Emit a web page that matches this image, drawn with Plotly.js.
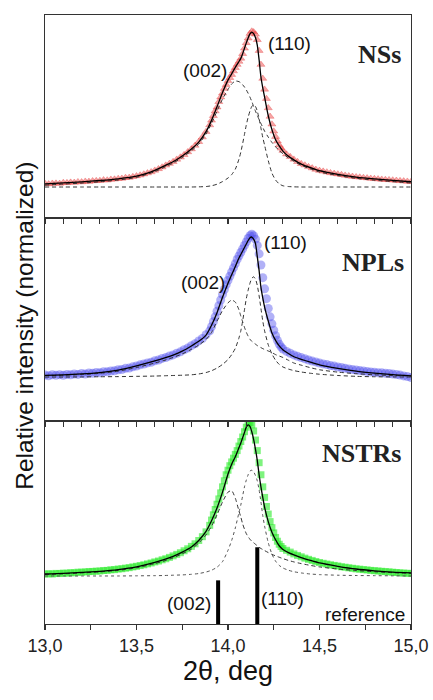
<!DOCTYPE html>
<html>
<head>
<meta charset="utf-8">
<script src="https://cdn.plot.ly/plotly-3.0.1.min.js"></script>
<style>html,body{margin:0;padding:0;background:#fff;}#chart{width:433px;height:700px;}</style>
</head>
<body>
<div id="chart"></div>
<script>
// ---------- measured data (2theta, deg) ----------
const dataTheta = [
 13.00,13.02,13.04,13.06,13.08,13.10,13.12,13.14,13.16,13.18,13.20,13.22,13.24,13.26,13.28,13.30,13.32,13.34,13.36,13.38,13.40,13.42,13.44,13.46,13.48,13.50,13.52,13.54,13.56,13.58,13.60,13.62,13.64,13.66,13.68,13.70,13.72,13.74,13.76,13.78,13.80,13.82,13.84,13.86,13.88,
 13.90,13.91,13.92,13.93,13.94,13.95,13.96,13.97,13.98,13.99,14.00,14.01,14.02,14.03,14.04,14.05,14.06,14.07,14.08,14.09,14.10,14.11,14.12,14.13,14.14,14.15,14.16,14.17,14.18,14.19,14.20,14.21,14.22,14.23,14.24,14.25,14.26,14.27,14.28,14.29,14.30,
 14.32,14.34,14.36,14.38,14.40,14.42,14.44,14.46,14.48,14.50,14.52,14.54,14.56,14.58,14.60,14.62,14.64,14.66,14.68,14.70,14.72,14.74,14.76,14.78,14.80,14.82,14.84,14.86,14.88,14.90,14.92,14.94,14.96,14.98,15.00];

const nssData = [
 0.022,0.019,0.023,0.024,0.022,0.028,0.027,0.030,0.029,0.033,0.032,0.036,0.035,0.039,0.040,0.041,0.045,0.044,0.049,0.050,0.054,0.055,0.060,0.061,0.066,0.071,0.076,0.083,0.090,0.097,0.107,0.117,0.128,0.140,0.151,0.163,0.178,0.192,0.208,0.226,0.245,0.268,0.292,0.322,0.357,
 0.40,0.43,0.46,0.49,0.515,0.55,0.58,0.605,0.635,0.66,0.685,0.705,0.725,0.748,0.77,0.79,0.81,0.83,0.86,0.895,0.93,0.96,0.99,1.005,1.0,0.985,0.95,0.88,0.79,0.70,0.63,0.57,0.51,0.455,0.405,0.36,0.325,0.295,0.27,0.25,0.235,
 0.212,0.195,0.178,0.163,0.150,0.141,0.130,0.122,0.113,0.106,0.101,0.096,0.091,0.087,0.083,0.079,0.075,0.071,0.068,0.065,0.063,0.060,0.058,0.055,0.053,0.051,0.049,0.047,0.046,0.044,0.042,0.040,0.038,0.036,0.034];

const nplData = [
 0.014,0.009,0.016,0.012,0.017,0.013,0.019,0.016,0.022,0.019,0.025,0.022,0.029,0.027,0.033,0.031,0.038,0.037,0.043,0.045,0.052,0.054,0.062,0.064,0.073,0.079,0.087,0.093,0.101,0.106,0.116,0.122,0.133,0.139,0.150,0.158,0.170,0.180,0.195,0.207,0.224,0.238,0.258,0.275,0.302,
 0.33,0.36,0.395,0.43,0.47,0.51,0.55,0.59,0.625,0.66,0.69,0.72,0.75,0.78,0.81,0.84,0.865,0.89,0.915,0.94,0.965,0.99,1.01,1.02,1.01,0.985,0.94,0.88,0.80,0.71,0.63,0.56,0.49,0.43,0.38,0.335,0.295,0.262,0.235,0.215,0.20,
 0.183,0.170,0.158,0.148,0.139,0.131,0.122,0.114,0.108,0.100,0.094,0.089,0.082,0.078,0.072,0.068,0.062,0.058,0.053,0.050,0.046,0.043,0.040,0.036,0.034,0.031,0.030,0.027,0.025,0.021,0.018,0.014,0.008,0.003,-0.004];

const nstrData = [
 0.012,0.015,0.013,0.017,0.016,0.019,0.018,0.022,0.021,0.025,0.025,0.027,0.029,0.030,0.032,0.033,0.036,0.037,0.041,0.042,0.046,0.048,0.052,0.055,0.060,0.064,0.069,0.074,0.080,0.086,0.093,0.099,0.107,0.114,0.123,0.133,0.143,0.154,0.167,0.180,0.196,0.213,0.235,0.260,0.292,
 0.335,0.37,0.405,0.44,0.475,0.51,0.55,0.59,0.63,0.67,0.70,0.73,0.755,0.78,0.805,0.83,0.86,0.89,0.92,0.955,0.985,1.01,1.015,1.0,0.96,0.90,0.83,0.75,0.67,0.59,0.52,0.46,0.41,0.36,0.32,0.285,0.255,0.23,0.21,0.195,0.182,
 0.170,0.158,0.146,0.136,0.127,0.118,0.110,0.103,0.096,0.089,0.084,0.079,0.074,0.070,0.066,0.061,0.058,0.054,0.051,0.047,0.045,0.042,0.040,0.037,0.035,0.033,0.031,0.029,0.027,0.025,0.023,0.021,0.019,0.018,0.016];

// ---------- fitted curves ----------
const fitTheta = [13.0,13.1,13.2,13.3,13.4,13.5,13.6,13.65,13.7,13.75,13.8,13.84,13.88,13.91,13.94,13.97,14.0,14.02,14.04,14.06,
 14.07,14.08,14.09,14.1,14.11,14.12,14.13,14.14,14.15,14.16,14.17,14.18,14.19,14.2,14.22,14.24,14.26,14.28,14.3,14.33,14.36,14.4,14.45,14.5,14.6,14.7,14.8,14.9,15.0];

const nssFit  = [0.020,0.027,0.033,0.042,0.053,0.070,0.108,0.135,0.163,0.200,0.245,0.290,0.357,0.430,0.518,0.610,0.690,0.730,0.772,0.810,
 0.830,0.860,0.895,0.930,0.962,0.988,1.000,0.990,0.965,0.915,0.820,0.710,0.640,0.580,0.460,0.370,0.305,0.265,0.232,0.198,0.175,0.148,0.125,0.105,0.082,0.064,0.052,0.043,0.034];
const nss002  = [0.012,0.019,0.025,0.034,0.045,0.062,0.099,0.126,0.154,0.190,0.234,0.277,0.342,0.410,0.490,0.568,0.630,0.665,0.684,0.680,
 0.672,0.660,0.645,0.627,0.605,0.580,0.552,0.520,0.490,0.462,0.435,0.410,0.385,0.360,0.322,0.288,0.260,0.235,0.215,0.188,0.166,0.140,0.117,0.097,0.074,0.056,0.044,0.035,0.026];
const nss110  = [0,0,0,0,0,0,0,0,0,0,0,0.001,0.003,0.008,0.018,0.035,0.058,0.080,0.115,0.180,
 0.225,0.280,0.340,0.400,0.450,0.490,0.520,0.530,0.520,0.490,0.440,0.380,0.320,0.270,0.170,0.090,0.045,0.020,0.008,0.003,0.001,0,0,0,0,0,0,0,0];

const nplFit  = [0.012,0.016,0.022,0.032,0.050,0.080,0.115,0.135,0.157,0.185,0.222,0.255,0.300,0.370,0.460,0.570,0.670,0.730,0.790,0.850,
 0.875,0.900,0.925,0.950,0.975,0.995,1.000,0.985,0.955,0.860,0.760,0.640,0.565,0.500,0.400,0.315,0.262,0.222,0.195,0.168,0.145,0.127,0.106,0.087,0.062,0.042,0.028,0.017,0.009];
const npl002  = [0.010,0.013,0.018,0.027,0.042,0.068,0.100,0.118,0.140,0.165,0.198,0.228,0.268,0.318,0.400,0.475,0.530,0.550,0.535,0.480,
 0.435,0.395,0.355,0.320,0.292,0.270,0.255,0.245,0.235,0.225,0.217,0.210,0.203,0.197,0.186,0.175,0.160,0.150,0.140,0.120,0.100,0.085,0.067,0.052,0.035,0.024,0.016,0.011,0.007];
const npl110  = [0,0,0.001,0.002,0.003,0.005,0.007,0.009,0.011,0.013,0.016,0.022,0.032,0.045,0.064,0.090,0.125,0.160,0.205,0.280,
 0.330,0.400,0.480,0.560,0.620,0.670,0.705,0.716,0.700,0.655,0.580,0.490,0.400,0.330,0.230,0.165,0.120,0.090,0.072,0.057,0.046,0.036,0.027,0.020,0.011,0.005,0.002,0.001,0];

const nstrFit = [0.013,0.017,0.024,0.031,0.042,0.060,0.090,0.108,0.130,0.158,0.192,0.235,0.295,0.365,0.450,0.555,0.675,0.740,0.790,0.850,
 0.880,0.915,0.950,0.985,1.000,0.990,0.955,0.905,0.840,0.765,0.670,0.590,0.520,0.455,0.360,0.290,0.240,0.200,0.175,0.155,0.140,0.122,0.103,0.086,0.064,0.046,0.034,0.025,0.020];
const nstr002 = [0.010,0.014,0.020,0.027,0.037,0.054,0.082,0.099,0.120,0.147,0.178,0.218,0.272,0.330,0.405,0.490,0.555,0.565,0.515,0.430,
 0.390,0.345,0.310,0.280,0.260,0.243,0.230,0.220,0.210,0.200,0.190,0.182,0.175,0.168,0.155,0.143,0.133,0.124,0.115,0.103,0.093,0.082,0.070,0.060,0.046,0.036,0.028,0.022,0.017];
const nstr110 = [0,0,0,0,0,0.001,0.002,0.003,0.005,0.007,0.011,0.016,0.026,0.038,0.058,0.095,0.170,0.235,0.318,0.420,
 0.470,0.530,0.590,0.635,0.670,0.695,0.700,0.690,0.665,0.630,0.570,0.490,0.400,0.330,0.220,0.145,0.098,0.070,0.053,0.038,0.028,0.020,0.013,0.009,0.005,0.003,0.002,0.001,0];

// ---------- reference pattern ----------
const refTheta  = [13.946, 14.160];
const refHeight = [0.289, 0.508];
const refLabels = ['(002)', '(110)'];

// ---------- axis ranges per panel ----------
const rangeTop = [-0.2, 1.11];
const rangeMid = [-0.314, 1.136];
const rangeBot = [-0.318, 1.026];

const fitLine  = {color:'#000', width:1.3, shape:'spline', smoothing:0.6};
const compDash = {color:'#333', width:1, dash:'4px,3px', shape:'spline', smoothing:0.6};
const compDot  = {color:'#555', width:1, dash:'dot', shape:'spline', smoothing:0.6};

const traces = [
  // NSs (top)
  {x:dataTheta, y:nssData, xaxis:'x3', yaxis:'y3', mode:'markers', type:'scatter',
   marker:{symbol:'triangle-up', size:7, color:'rgba(240,75,75,0.5)', line:{color:'rgba(225,55,55,0.55)', width:0.6}}},
  {x:fitTheta, y:nss002, xaxis:'x3', yaxis:'y3', mode:'lines', line:compDash},
  {x:fitTheta, y:nss110, xaxis:'x3', yaxis:'y3', mode:'lines', line:compDash},
  {x:fitTheta, y:nssFit, xaxis:'x3', yaxis:'y3', mode:'lines', line:fitLine},
  // NPLs (middle)
  {x:dataTheta, y:nplData, xaxis:'x2', yaxis:'y2', mode:'markers', type:'scatter',
   marker:{symbol:'circle', size:9, color:'rgba(70,70,235,0.42)', line:{width:0}}},
  {x:fitTheta, y:npl002, xaxis:'x2', yaxis:'y2', mode:'lines', line:compDash},
  {x:fitTheta, y:npl110, xaxis:'x2', yaxis:'y2', mode:'lines', line:compDash},
  {x:fitTheta, y:nplFit, xaxis:'x2', yaxis:'y2', mode:'lines', line:fitLine},
  // NSTRs (bottom)
  {x:dataTheta, y:nstrData, xaxis:'x', yaxis:'y', mode:'markers', type:'scatter',
   marker:{symbol:'square', size:7, color:'rgba(40,235,40,0.6)', line:{width:0}}},
  {x:fitTheta, y:nstr002, xaxis:'x', yaxis:'y', mode:'lines', line:compDash},
  {x:fitTheta, y:nstr110, xaxis:'x', yaxis:'y', mode:'lines', line:compDot},
  {x:fitTheta, y:nstrFit, xaxis:'x', yaxis:'y', mode:'lines', line:fitLine},
  // reference bars
  {type:'bar', x:refTheta, y:refHeight, base:rangeBot[0], width:0.022, xaxis:'x', yaxis:'y',
   marker:{color:'#000', line:{width:0}}, text:refLabels, hoverinfo:'x+text', textposition:'none'}
];

const axisLine = {showline:true, linecolor:'#333', linewidth:1.3, mirror:true, showgrid:false, zeroline:false};
const upperX = Object.assign({}, axisLine, {matches:'x', range:[13,15], tick0:13, dtick:0.1, ticks:'outside',
  ticklen:5, tickwidth:1.1, tickcolor:'#333', showticklabels:false});
const yBase = Object.assign({}, axisLine, {showticklabels:false, ticks:''});

const sans = 'Liberation Sans, Arial, sans-serif';
const serif = 'Liberation Serif, Times New Roman, serif';
const lbl = (text, xr, yr, x, y, extra) => Object.assign({text, xref:xr, yref:yr, x, y, showarrow:false,
  font:{family:sans, size:19, color:'#111'}, xanchor:'center', yanchor:'middle'}, extra || {});
const panelLbl = (text, yr, x, y) => ({text, xref:'paper', yref:yr, x, y, showarrow:false, xanchor:'right', yanchor:'middle',
  font:{family:serif, size:26, color:'#222', weight:'bold'}});

const layout = {
  width:433, height:700,
  margin:{l:45, r:22, t:15, b:76},
  paper_bgcolor:'#fff', plot_bgcolor:'#fff',
  separators:', ',
  showlegend:false,
  font:{family:sans, color:'#222'},
  xaxis: Object.assign({}, axisLine, {anchor:'y', range:[13,15], tick0:13, dtick:0.5, tickformat:'.1f',
    ticks:'outside', ticklen:5, tickwidth:1.1, tickcolor:'#333',
    minor:{dtick:0.25, tick0:13, ticks:'outside', ticklen:5, tickwidth:1.1, tickcolor:'#333', showgrid:false},
    tickfont:{family:sans, size:18, color:'#222'},
    title:{text:'2θ, deg', font:{family:sans, size:27, color:'#111'}, standoff:6}}),
  xaxis2: Object.assign({}, upperX, {anchor:'y2'}),
  xaxis3: Object.assign({}, upperX, {anchor:'y3'}),
  yaxis:  Object.assign({}, yBase, {domain:[0, 1/3], range:rangeBot}),
  yaxis2: Object.assign({}, yBase, {domain:[1/3, 2/3], range:rangeMid}),
  yaxis3: Object.assign({}, yBase, {domain:[2/3, 1], range:rangeTop}),
  annotations:[
    {text:'Relative intensity (normalized)', xref:'paper', yref:'paper', x:-0.057, y:0.49, textangle:-90,
     showarrow:false, xanchor:'center', yanchor:'middle', font:{family:sans, size:24.5, color:'#111'}},
    lbl('(110)', 'paper', 'y3 domain', 0.667, 0.862),
    lbl('(002)', 'paper', 'y3 domain', 0.4385, 0.729),
    panelLbl('NSs', 'y3 domain', 0.978, 0.803),
    lbl('(110)', 'paper', 'y2 domain', 0.656, 0.877),
    lbl('(002)', 'paper', 'y2 domain', 0.432, 0.680),
    panelLbl('NPLs', 'y2 domain', 0.986, 0.783),
    lbl('(002)', 'paper', 'y domain', 0.393, 0.103),
    lbl('(110)', 'paper', 'y domain', 0.650, 0.128),
    lbl('reference', 'paper', 'y domain', 0.990, 0.046, {xanchor:'right'}),
    panelLbl('NSTRs', 'y domain', 0.978, 0.842)
  ]
};

Plotly.newPlot('chart', traces, layout, {displayModeBar:false, staticPlot:true});
</script>
</body>
</html>
